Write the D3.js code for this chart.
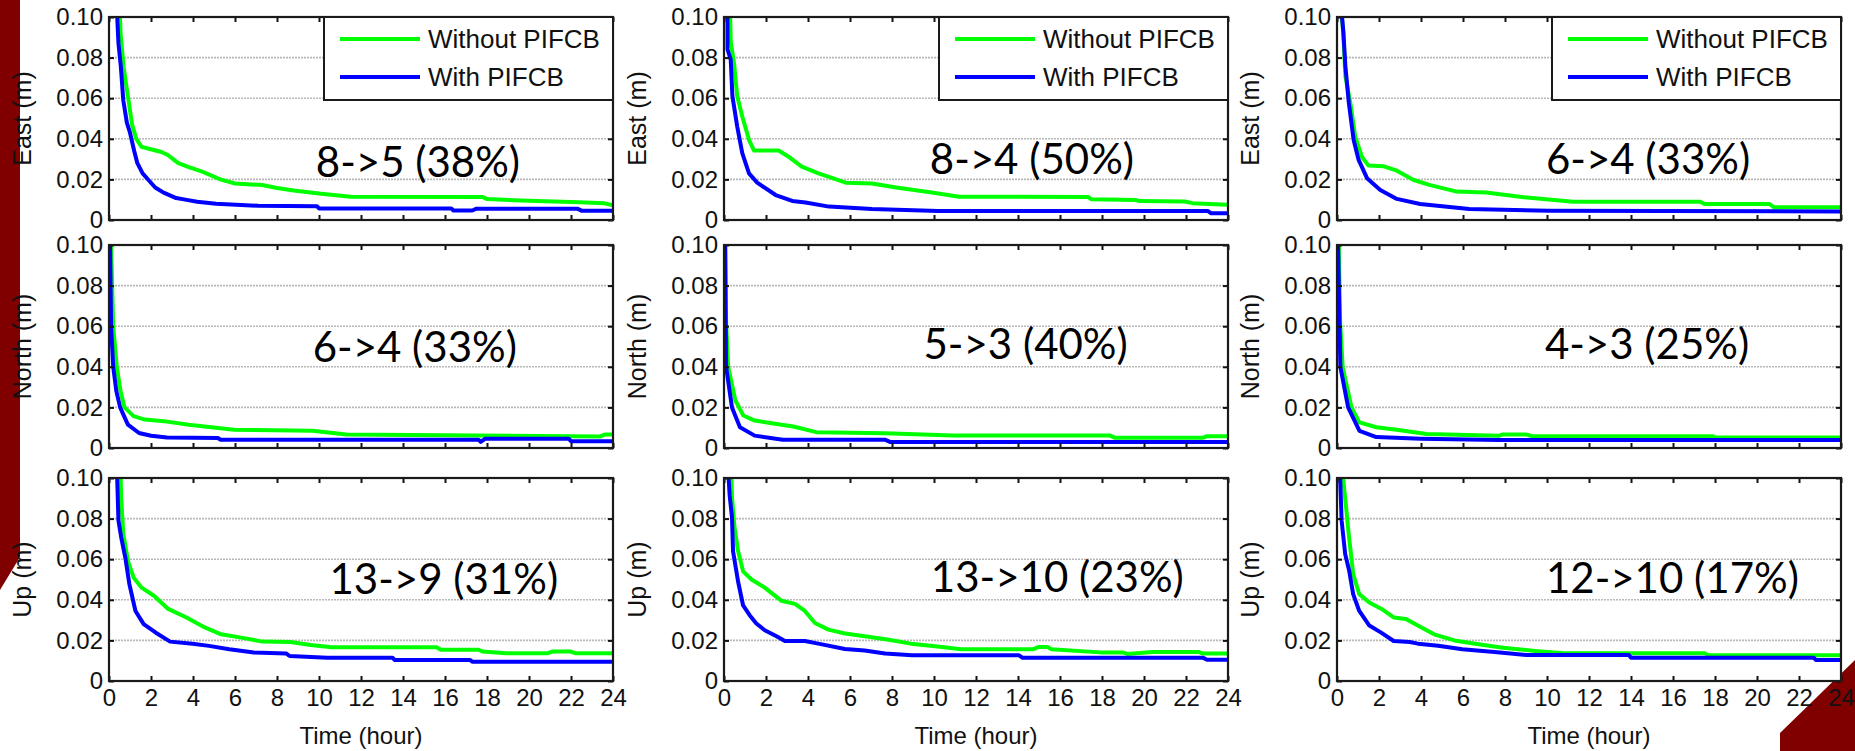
<!DOCTYPE html>
<html>
<head>
<meta charset="utf-8">
<script src="https://cdn.jsdelivr.net/npm/d3@7"></script>
<style>
  body { margin: 0; background: #ffffff; }
  svg { display: block; }
</style>
</head>
<body>
<svg id="chart" width="1855" height="751"></svg>
<script>
// ---- Data: positioning error (m) over time (hour) ----
const hourTicks = [0, 2, 4, 6, 8, 10, 12, 14, 16, 18, 20, 22, 24];
const errorTicks = [0, 0.02, 0.04, 0.06, 0.08, 0.10];
const components = ["East", "North", "Up"];
const seriesNames = ["Without PIFCB", "With PIFCB"];
const convergenceNotes = [
  ["8->5 (38%)", "8->4 (50%)", "6->4 (33%)"],
  ["6->4 (33%)", "5->3 (40%)", "4->3 (25%)"],
  ["13->9 (31%)", "13->10 (23%)", "12->10 (17%)"]
];

const east1Without = [[0.45,0.12],[0.55,0.092],[0.7,0.075],[0.9,0.061],[1.1,0.047],[1.3,0.040],[1.55,0.036],[1.85,0.0352],[2.5,0.0335],[2.8,0.032],[3.3,0.028],[3.8,0.026],[4.4,0.024],[5.3,0.020],[6.0,0.018],[7.3,0.0172],[8.0,0.0158],[8.8,0.0145],[10.0,0.013],[11.5,0.0115],[17.8,0.0113],[18.0,0.0103],[20.0,0.0095],[22.4,0.0088],[23.6,0.0082],[24,0.0072]];
const east1With = [[0.35,0.12],[0.4,0.098],[0.45,0.087],[0.56,0.076],[0.68,0.059],[0.85,0.048],[1.0,0.043],[1.2,0.034],[1.35,0.028],[1.6,0.023],[1.88,0.0197],[2.2,0.016],[2.6,0.0135],[3.2,0.0108],[3.7,0.0099],[4.2,0.009],[5.1,0.008],[7.1,0.0070],[9.9,0.0068],[10.0,0.0057],[16.3,0.0057],[16.4,0.0047],[17.3,0.0047],[17.5,0.0056],[22.3,0.0056],[22.5,0.0046],[24,0.0046]];
const east2Without = [[0.25,0.12],[0.32,0.088],[0.48,0.077],[0.63,0.061],[0.87,0.051],[1.19,0.0395],[1.43,0.0342],[2.6,0.0342],[3.1,0.031],[3.7,0.0263],[4.5,0.023],[5.8,0.0184],[7.05,0.018],[8.2,0.016],[9.9,0.0135],[11.2,0.0115],[17.35,0.0113],[17.5,0.0102],[19.6,0.0099],[19.8,0.0093],[21.95,0.0091],[22.3,0.0083],[23.4,0.0077],[24,0.0075]];
const east2With = [[0.16,0.12],[0.17,0.084],[0.32,0.079],[0.4,0.061],[0.63,0.046],[0.87,0.033],[1.19,0.023],[1.58,0.0184],[2.46,0.0123],[3.25,0.0094],[3.88,0.0086],[5.0,0.0066],[7.05,0.0054],[10.2,0.0044],[23.05,0.0044],[23.2,0.0033],[24,0.0033]];
const east3Without = [[0.2,0.12],[0.24,0.0987],[0.3,0.092],[0.4,0.0707],[0.63,0.058],[0.87,0.041],[1.19,0.031],[1.5,0.0268],[2.2,0.0265],[2.85,0.0243],[3.65,0.0197],[4.44,0.0172],[5.7,0.014],[7.1,0.0135],[8.9,0.0112],[11.25,0.009],[17.3,0.009],[17.5,0.0079],[20.6,0.0079],[20.8,0.0063],[24,0.0063]];
const east3With = [[0.2,0.12],[0.24,0.1],[0.3,0.093],[0.4,0.0757],[0.56,0.058],[0.79,0.0395],[1.03,0.0296],[1.43,0.0206],[2.06,0.0148],[2.85,0.0104],[3.96,0.0079],[6.3,0.0054],[10.1,0.0046],[24,0.0042]];

const north1Without = [[0.05,0.12],[0.1,0.1],[0.2,0.06],[0.37,0.04],[0.55,0.028],[0.74,0.02],[1.17,0.0157],[1.7,0.014],[2.76,0.013],[3.8,0.0115],[5.95,0.009],[9.7,0.0085],[11.3,0.0066],[23.4,0.0057],[23.6,0.0066],[24,0.0066]];
const north1With = [[0.0,0.12],[0.05,0.1],[0.1,0.06],[0.2,0.04],[0.35,0.028],[0.53,0.02],[0.9,0.0115],[1.43,0.0074],[2.0,0.006],[2.76,0.0052],[5.2,0.0049],[5.3,0.0041],[17.6,0.0041],[17.7,0.003],[17.9,0.0045],[21.9,0.0045],[22.0,0.0033],[24,0.0033]];
const north2Without = [[0.05,0.12],[0.1,0.062],[0.2,0.04],[0.54,0.0235],[0.92,0.016],[1.46,0.0135],[2.27,0.0122],[3.3,0.0106],[4.4,0.0078],[7.66,0.0073],[10.9,0.0061],[18.4,0.0061],[18.6,0.005],[22.8,0.005],[23.0,0.0058],[24,0.0058]];
const north2With = [[0.0,0.12],[0.05,0.1],[0.1,0.04],[0.38,0.02],[0.76,0.0102],[1.46,0.0061],[2.8,0.0041],[7.66,0.0041],[7.9,0.003],[24,0.003]];
const north3Without = [[0.05,0.12],[0.15,0.062],[0.27,0.04],[0.69,0.02],[1.07,0.0126],[1.87,0.0102],[2.93,0.0089],[4.27,0.0069],[7.7,0.006],[7.9,0.0067],[9.0,0.0067],[9.3,0.0058],[17.9,0.0058],[18.0,0.0052],[24,0.0052]];
const north3With = [[0.0,0.12],[0.05,0.1],[0.16,0.04],[0.53,0.02],[1.07,0.0084],[1.87,0.0054],[4.0,0.0046],[7.7,0.0039],[24,0.0039]];

const up1Without = [[0.5,0.12],[0.58,0.0905],[0.68,0.0725],[0.91,0.0588],[1.17,0.051],[1.55,0.046],[2.14,0.042],[2.82,0.0355],[3.69,0.0313],[4.56,0.0264],[5.34,0.023],[6.5,0.021],[7.3,0.0194],[8.64,0.0192],[9.6,0.0177],[10.6,0.0166],[15.6,0.0166],[15.8,0.0154],[17.6,0.0154],[17.8,0.0145],[18.9,0.0137],[20.9,0.0137],[21.1,0.0145],[22.0,0.0145],[22.2,0.0137],[24,0.0137]];
const up1With = [[0.37,0.12],[0.39,0.1],[0.45,0.079],[0.58,0.0708],[0.78,0.0606],[0.97,0.0477],[1.26,0.0345],[1.65,0.028],[2.23,0.0238],[2.91,0.0194],[3.98,0.0184],[4.76,0.0173],[5.73,0.0156],[6.9,0.014],[8.45,0.0135],[8.6,0.0123],[10.4,0.0115],[13.5,0.0115],[13.6,0.0104],[17.2,0.0104],[17.3,0.0095],[24,0.0095]];
const up2Without = [[0.3,0.12],[0.38,0.0905],[0.5,0.0757],[0.67,0.064],[0.91,0.054],[1.31,0.05],[1.94,0.046],[2.74,0.0395],[3.38,0.038],[3.85,0.0345],[4.33,0.0286],[4.97,0.0253],[5.76,0.0234],[6.7,0.022],[7.85,0.0203],[8.9,0.0184],[10.06,0.0171],[11.3,0.0156],[14.7,0.0156],[15.0,0.0168],[15.4,0.0168],[15.6,0.0156],[17.9,0.0141],[19.0,0.0141],[19.2,0.0133],[20.4,0.0143],[22.6,0.0143],[22.8,0.0135],[24,0.0135]];
const up2With = [[0.2,0.12],[0.22,0.1],[0.27,0.0913],[0.38,0.0806],[0.43,0.064],[0.67,0.049],[0.91,0.0372],[1.23,0.0323],[1.54,0.0283],[1.94,0.025],[2.5,0.022],[2.9,0.0197],[3.85,0.0197],[4.49,0.0184],[5.76,0.0158],[6.7,0.015],[7.67,0.0135],[8.95,0.0127],[14.05,0.0127],[14.2,0.0115],[22.8,0.0115],[23.0,0.0105],[24,0.0105]];
const up3Without = [[0.25,0.12],[0.29,0.1],[0.42,0.087],[0.54,0.074],[0.77,0.0527],[1.06,0.0428],[1.54,0.0387],[2.12,0.0355],[2.7,0.0313],[3.28,0.0305],[3.85,0.0273],[4.62,0.023],[5.59,0.02],[6.74,0.0181],[7.9,0.0164],[9.44,0.0148],[10.8,0.0137],[17.5,0.0137],[17.7,0.0127],[24,0.0127]];
const up3With = [[0.13,0.12],[0.15,0.1],[0.22,0.079],[0.39,0.0625],[0.58,0.0543],[0.77,0.0428],[1.06,0.0345],[1.54,0.0273],[2.12,0.0237],[2.7,0.0197],[3.47,0.0192],[3.85,0.0184],[4.82,0.0174],[5.97,0.0156],[7.5,0.0143],[9.05,0.0128],[13.9,0.0128],[14.0,0.0115],[22.7,0.0115],[22.8,0.0104],[24,0.0104]];

const panelSeries = [
  [[east1Without, east1With], [east2Without, east2With], [east3Without, east3With]],
  [[north1Without, north1With], [north2Without, north2With], [north3Without, north3With]],
  [[up1Without, up1With], [up2Without, up2With], [up3Without, up3With]]
];

// ---- Layout ----
const colLeft = [109, 724, 1337];
const rowTop = [17, 245, 478];
const plotW = 504, plotH = 203;
const seriesColors = ["#00ff00", "#0000ff"];
const axisFont = "'Liberation Sans', Arial, sans-serif";
const noteFont = "Lato, 'Open Sans', sans-serif";
// Anchor of each convergence note, in (hour, metre) of its panel
const noteAnchor = [
  [[9.85, 0.0212], [9.8, 0.0228], [9.95, 0.0228]],
  [[9.7, 0.0425], [9.5, 0.0440], [9.9, 0.0440]],
  [[10.5, 0.0427], [9.85, 0.0438], [9.95, 0.0434]]
];

const svg = d3.select("#chart");

// slide decoration behind the figure
svg.append("polygon")
  .attr("points", "0,0 20,0 20,557 0,590")
  .attr("fill", "#800000");
svg.append("polygon")
  .attr("points", "1780,751 1780,733 1855,660 1855,751")
  .attr("fill", "#800000");

const fmtTick = d => d === 0 ? "0" : d3.format(".2f")(d);
const line = d3.line();

components.forEach((comp, r) => {
  colLeft.forEach((left, c) => {
    const top = rowTop[r];
    const x = d3.scaleLinear().domain([0, 24]).range([left, left + plotW]);
    const y = d3.scaleLinear().domain([0, 0.1]).range([top + plotH, top]);
    const g = svg.append("g");

    g.append("rect").attr("x", left).attr("y", top)
      .attr("width", plotW).attr("height", plotH).attr("fill", "#fff");

    // horizontal grid
    g.append("g").selectAll("line")
      .data(errorTicks.filter(v => v > 0 && v < 0.1))
      .join("line")
      .attr("x1", left).attr("x2", left + plotW)
      .attr("y1", d => y(d)).attr("y2", d => y(d))
      .attr("stroke", "#b8b8b8").attr("stroke-width", 1.6)
      .attr("stroke-dasharray", "2,1");

    // curves
    const clipId = `clip-${r}-${c}`;
    g.append("clipPath").attr("id", clipId).append("rect")
      .attr("x", left).attr("y", top).attr("width", plotW).attr("height", plotH);
    const curves = g.append("g").attr("clip-path", `url(#${clipId})`);
    panelSeries[r][c].forEach((pts, i) => {
      curves.append("path")
        .attr("d", line(pts.map(p => [x(p[0]), y(p[1])])))
        .attr("fill", "none")
        .attr("stroke", seriesColors[i])
        .attr("stroke-width", 4)
        .attr("stroke-linejoin", "round");
    });

    // axes with inward ticks
    const styleAxis = sel => {
      sel.select(".domain").remove();
      sel.selectAll(".tick line").attr("stroke", "#111").attr("stroke-width", 2);
      sel.selectAll("text").attr("font-family", axisFont).attr("font-size", 24).attr("fill", "#111");
    };
    g.append("g").attr("transform", `translate(${left},0)`)
      .call(d3.axisLeft(y).tickValues(errorTicks).tickFormat(fmtTick)
        .tickSizeInner(-5).tickSizeOuter(0).tickPadding(6))
      .call(styleAxis);
    g.append("g").attr("transform", `translate(${left + plotW},0)`)
      .call(d3.axisRight(y).tickValues(errorTicks).tickFormat("")
        .tickSizeInner(-5).tickSizeOuter(0))
      .call(styleAxis);
    g.append("g").attr("transform", `translate(0,${top})`)
      .call(d3.axisTop(x).tickValues(hourTicks).tickFormat("")
        .tickSizeInner(-5).tickSizeOuter(0))
      .call(styleAxis);
    g.append("g").attr("transform", `translate(0,${top + plotH})`)
      .call(d3.axisBottom(x).tickValues(hourTicks)
        .tickFormat(r === 2 ? d3.format("d") : "")
        .tickSizeInner(-5).tickSizeOuter(0).tickPadding(8))
      .call(styleAxis);

    // frame
    g.append("rect").attr("x", left).attr("y", top)
      .attr("width", plotW).attr("height", plotH)
      .attr("fill", "none").attr("stroke", "#1a1a1a").attr("stroke-width", 2.2);

    // y label
    g.append("text")
      .attr("transform", `translate(${left - 87},${top + plotH / 2}) rotate(-90)`)
      .attr("text-anchor", "middle").attr("dy", "0.35em")
      .attr("font-family", axisFont).attr("font-size", 25).attr("fill", "#111")
      .text(`${comp} (m)`);

    // x label on the bottom row
    if (r === 2) {
      g.append("text")
        .attr("x", left + plotW / 2).attr("y", 744)
        .attr("text-anchor", "middle")
        .attr("font-family", axisFont).attr("font-size", 24).attr("fill", "#111")
        .text("Time (hour)");
    }

    // convergence note
    const a = noteAnchor[r][c];
    g.append("text")
      .attr("x", x(a[0])).attr("y", y(a[1]))
      .attr("font-family", noteFont).attr("font-size", 42).attr("fill", "#000")
      .text(convergenceNotes[r][c]);

    // legend on the top row
    if (r === 0) {
      const lx = left + 215, ly = top;
      const lg = g.append("g");
      lg.append("rect").attr("x", lx).attr("y", ly)
        .attr("width", left + plotW - lx).attr("height", 83)
        .attr("fill", "#fff").attr("stroke", "#1a1a1a").attr("stroke-width", 2);
      seriesNames.forEach((name, i) => {
        const yy = ly + 22 + i * 38;
        lg.append("line")
          .attr("x1", lx + 16).attr("x2", lx + 96)
          .attr("y1", yy).attr("y2", yy)
          .attr("stroke", seriesColors[i]).attr("stroke-width", 4);
        lg.append("text")
          .attr("x", lx + 104).attr("y", yy).attr("dy", "0.36em")
          .attr("font-family", axisFont).attr("font-size", 26).attr("fill", "#111")
          .text(name);
      });
    }
  });
});
</script>
</body>
</html>
